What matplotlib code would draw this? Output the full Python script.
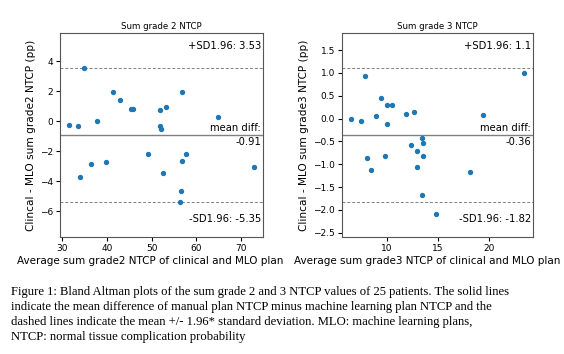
import matplotlib.pyplot as plt
import numpy as np

# grade 2 NTCP: average of clinical and MLO plan vs difference (pp)
avg_g2 = [31.6, 33.6, 35.0, 37.8, 41.3, 42.9, 45.3, 45.9, 51.8, 51.8, 52.1, 53.3,
          56.7, 64.8, 33.9, 36.4, 39.8, 49.2, 52.6, 56.7, 57.6, 56.6, 56.4, 72.8]
diff_g2 = [-0.22, -0.30, 3.53, 0.02, 1.98, 1.43, 0.85, 0.80, 0.74, -0.28, -0.52, 0.98,
           1.96, 0.30, -3.74, -2.83, -2.74, -2.20, -3.41, -2.65, -2.15, -4.65, -5.39, -3.02]
md_g2, lo_g2, hi_g2 = -0.91, -5.35, 3.53

# grade 3 NTCP
avg_g3 = [6.51, 7.49, 7.92, 8.96, 9.48, 10.0, 10.49, 10.07, 11.92, 12.67, 23.4, 19.35,
          8.14, 8.44, 9.80, 12.38, 12.93, 13.0, 13.45, 13.52, 13.52, 13.42, 14.82, 18.14]
diff_g3 = [-0.01, -0.05, 0.93, 0.065, 0.45, 0.30, 0.29, -0.11, 0.09, 0.15, 0.99, 0.08,
           -0.86, -1.12, -0.83, -0.59, -0.72, -1.07, -0.43, -0.53, -0.83, -1.67, -2.10, -1.16]
md_g3, lo_g3, hi_g3 = -0.36, -1.82, 1.1

caption = ("Figure 1: Bland Altman plots of the sum grade 2 and 3 NTCP values of 25 patients. The solid lines\n"
           "indicate the mean difference of manual plan NTCP minus machine learning plan NTCP and the\n"
           "dashed lines indicate the mean +/- 1.96* standard deviation. MLO: machine learning plans,\n"
           "NTCP: normal tissue complication probability")

fig = plt.figure(figsize=(5.64, 3.54), dpi=100)
ax1 = fig.add_axes([60 / 564, 117 / 354, 203 / 564, 204 / 354])
ax2 = fig.add_axes([342 / 564, 117 / 354, 191 / 564, 204 / 354])


def bland_altman(ax, x, y, md, lo, hi, grade):
    ax.scatter(x, y, s=8, color='#1f77b4', zorder=3)
    ax.axhline(md, color='gray', linestyle='-', lw=1)
    ax.axhline(hi, color='gray', linestyle=(0, (3, 2)), lw=0.7)
    ax.axhline(lo, color='gray', linestyle=(0, (3, 2)), lw=0.7)
    sd = (hi - md) / 1.96
    ax.set_ylim(md - 3 * sd, md + 3 * sd)
    ax.set_title(f"Sum grade {grade} NTCP", fontsize=6.2, pad=3)
    ax.set_ylabel(f"Clincal - MLO sum grade{grade} NTCP (pp)", fontsize=7.6, labelpad=3)
    ax.set_xlabel(f"Average sum grade{grade} NTCP of clinical and MLO plan", fontsize=7.5,
                  labelpad=2, x=0.445, ha='center')
    ax.tick_params(labelsize=6.5, length=3, pad=2)
    for sp in ax.spines.values():
        sp.set_color('#555555')
    ax.annotate(f"+SD1.96: {hi}", xy=(0.99, 0.935), xycoords='axes fraction',
                ha='right', va='center', fontsize=7.2)
    ax.annotate(f"-SD1.96: {lo}", xy=(0.99, 0.09), xycoords='axes fraction',
                ha='right', va='center', fontsize=7.2)
    ax.annotate("mean diff:", xy=(0.99, md), xycoords=('axes fraction', 'data'),
                xytext=(0, 1.5), textcoords='offset points', ha='right', va='bottom', fontsize=7.2)
    ax.annotate(f"{md}", xy=(0.99, md), xycoords=('axes fraction', 'data'),
                xytext=(0, -1.5), textcoords='offset points', ha='right', va='top', fontsize=7.2)


bland_altman(ax1, avg_g2, diff_g2, md_g2, lo_g2, hi_g2, 2)
bland_altman(ax2, avg_g3, diff_g3, md_g3, lo_g3, hi_g3, 3)
ax1.set_yticks(np.arange(-6, 5, 2))
ax2.set_yticks(np.arange(-2.5, 1.6, 0.5))
ax2.set_xticks([10, 15, 20])

fig.text(11 / 564, 1 - 286 / 354, caption, family='Liberation Serif', fontsize=9.1,
         va='top', ha='left', linespacing=1.33)

fig.savefig('out.png', dpi=100)
